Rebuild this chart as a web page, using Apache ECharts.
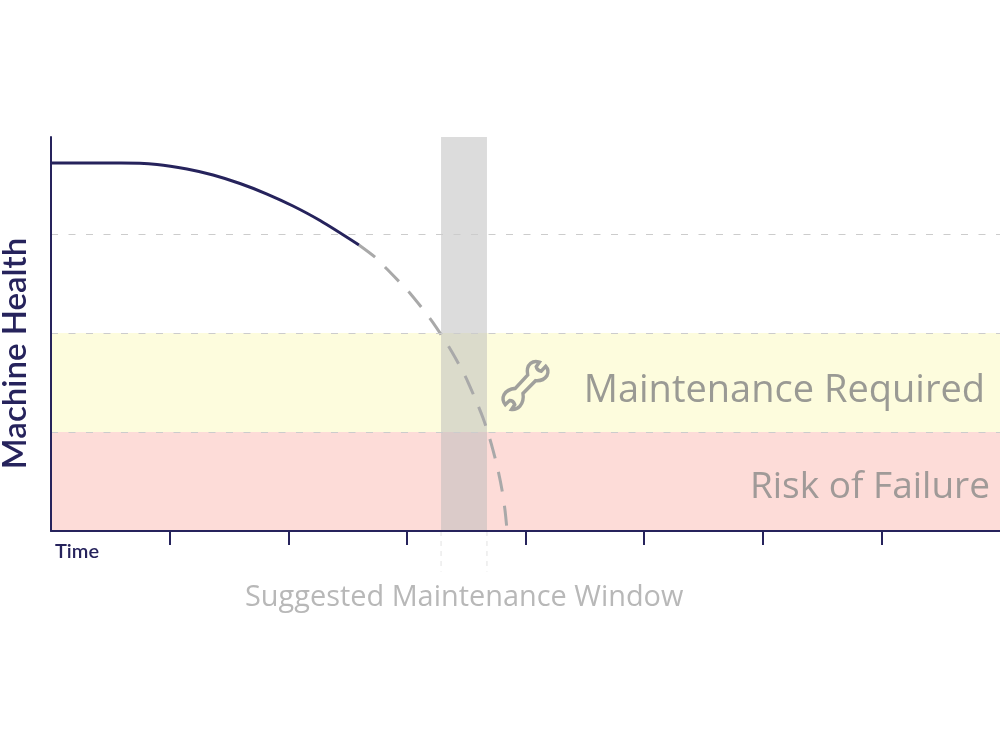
<!DOCTYPE html>
<html>
<head>
<meta charset="utf-8">
<title>Machine Health</title>
<style>
  html, body { margin: 0; padding: 0; background: #fff; }
  #chart { width: 1000px; height: 750px; }
</style>
<script src="https://cdn.jsdelivr.net/npm/echarts@6/dist/echarts.min.js"></script>
</head>
<body>
<div id="chart"></div>
<script>
// x in time ticks, y in health bands
const healthLine = [
  [0, 3.717], [0.329, 3.717], [0.590, 3.717], [0.894, 3.702], [1.146, 3.657],
  [1.366, 3.596], [1.593, 3.510], [1.821, 3.404], [2.040, 3.283], [2.268, 3.136], [2.596, 2.889]
]
const projectedLine = [
  [2.596, 2.889], [2.740, 2.758], [2.832, 2.646], [2.950, 2.500], [3.035, 2.389], [3.144, 2.227],
  [3.220, 2.106], [3.313, 1.939], [3.380, 1.808], [3.465, 1.626], [3.515, 1.505], [3.591, 1.293],
  [3.642, 1.141], [3.684, 0.990], [3.726, 0.818], [3.768, 0.616], [3.802, 0.414], [3.827, 0.212],
  [3.844, 0.010]
]
const bandLevels = [1, 2, 3]
const riskBand = [0, 1]
const requiredBand = [1, 2]
const maintenanceWindow = [3.288, 3.675]
const timeTicks = [1, 2, 3, 4, 5, 6, 7]
const wrenchAt = [4.0, 1.47]

const navy = '#26235c'
const wrench = 'path://M113 72Q108 48 122 36Q134 26 150 32L140 46Q142 58 156 60L170 45Q182 58 174 74Q162 92 138 90L98 130Q102 154 88 170Q76 182 62 180L72 165Q68 152 56 152L42 165Q30 150 38 134Q48 116 74 114Z'

function windowEdge(x) {
  return {
    type: 'line',
    data: [[x, 0], [x, -0.41]],
    clip: false,
    silent: true,
    symbol: 'none',
    lineStyle: { color: '#e2e2e2', width: 1, type: [5, 5] }
  }
}

const chart = echarts.init(document.getElementById('chart'))
chart.setOption({
  animation: false,
  backgroundColor: '#fff',
  grid: { left: 51, right: 0, top: 137, bottom: 219, outerBoundsMode: 'none' },
  xAxis: {
    type: 'value',
    min: 0,
    max: 8,
    interval: 1,
    z: 5,
    splitLine: { show: false },
    axisLabel: { show: false },
    axisLine: { show: true, lineStyle: { color: navy, width: 2 } },
    axisTick: {
      show: true,
      length: 14,
      customValues: timeTicks,
      lineStyle: { color: navy, width: 2 }
    }
  },
  yAxis: {
    type: 'value',
    min: 0,
    max: 3.98,
    z: 5,
    splitLine: { show: false },
    axisLabel: { show: false },
    axisTick: { show: false },
    axisLine: { show: true, lineStyle: { color: navy, width: 2 } }
  },
  series: [
    {
      type: 'line',
      data: [],
      silent: true,
      z: 1,
      markArea: {
        silent: true,
        data: [
          [{ yAxis: riskBand[0], itemStyle: { color: '#fddcd8' } }, { yAxis: riskBand[1] }],
          [{ yAxis: requiredBand[0], itemStyle: { color: '#fdfcdd' } }, { yAxis: requiredBand[1] }]
        ]
      }
    },
    {
      type: 'line',
      data: [],
      silent: true,
      z: 2,
      markArea: {
        silent: true,
        itemStyle: { color: 'rgba(185,185,185,0.5)' },
        data: [[{ xAxis: maintenanceWindow[0] }, { xAxis: maintenanceWindow[1] }]]
      },
      markLine: {
        silent: true,
        symbol: 'none',
        label: { show: false },
        lineStyle: { color: '#cccccc', width: 1, type: [7, 10.5] },
        data: bandLevels.map(v => ({ yAxis: v }))
      }
    },
    windowEdge(maintenanceWindow[0]),
    windowEdge(maintenanceWindow[1]),
    {
      type: 'line',
      data: projectedLine,
      smooth: 0.3,
      symbol: 'none',
      silent: true,
      z: 3,
      lineStyle: { color: '#a9a9a9', width: 3, type: [20, 14] },
      markPoint: {
        silent: true,
        symbol: wrench,
        symbolKeepAspect: false,
        symbolSize: [45, 48],
        itemStyle: { color: 'none', borderColor: '#a0a09c', borderWidth: 3.5 },
        label: { show: false },
        data: [{ coord: wrenchAt }]
      }
    },
    {
      type: 'line',
      data: healthLine,
      smooth: 0.3,
      symbol: 'none',
      silent: true,
      z: 4,
      lineStyle: { color: navy, width: 3 }
    }
  ],
  graphic: [
    {
      type: 'text', x: 15, y: 353.5, rotation: Math.PI / 2, silent: true, z: 10,
      style: { text: 'Machine Health', fill: navy, font: '600 33px Lato', align: 'center', verticalAlign: 'middle' }
    },
    {
      type: 'text', x: 55, y: 552, silent: true, z: 10,
      style: { text: 'Time', fill: navy, font: '600 20px Lato', verticalAlign: 'middle' }
    },
    {
      type: 'text', x: 985, y: 391, silent: true, z: 10,
      style: { text: 'Maintenance Required', fill: '#9a9a94', font: '38px "Open Sans"', align: 'right', verticalAlign: 'middle' }
    },
    {
      type: 'text', x: 990, y: 487, silent: true, z: 10,
      style: { text: 'Risk of Failure', fill: '#a09a98', font: '37px "Open Sans"', align: 'right', verticalAlign: 'middle' }
    },
    {
      type: 'text', x: 245, y: 598, silent: true, z: 10,
      style: { text: 'Suggested Maintenance Window', fill: '#b8b8b8', font: '28.9px "Open Sans"', verticalAlign: 'middle' }
    }
  ]
})
</script>
</body>
</html>
